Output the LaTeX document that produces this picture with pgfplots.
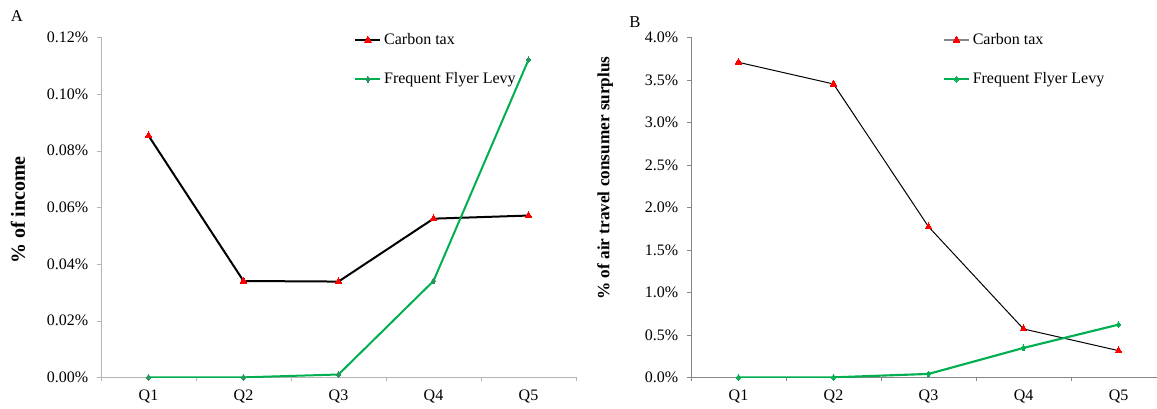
\documentclass[border=0pt]{standalone}
\usepackage{fontspec}
\setmainfont{Liberation Serif}
\usepackage{pgfplots}
\pgfplotsset{compat=1.18}
\definecolor{ffl}{RGB}{0,176,80}
\definecolor{fflmark}{RGB}{40,150,90}
\definecolor{axA}{RGB}{180,180,180}
\definecolor{axB}{RGB}{134,134,134}
\pgfplotsset{
 mybase/.style={
  scale only axis,
  font=\fontsize{12}{14}\selectfont,
  xmin=-0.5, ymin=0,
  axis x line*=bottom, axis y line*=left,
  axis line style={-},
  xtick={0,...,4}, xticklabels={Q1,Q2,Q3,Q4,Q5},
  major x tick style={draw=none},
  minor xtick={-0.5,0.5,1.5,2.5,3.5,4.5},
  tick align=outside,
  major tick length=3pt, minor tick length=3pt,
  /pgf/number format/assume math mode=true,
  yticklabel style={anchor=east, xshift=-3pt},
  xticklabel style={anchor=north, yshift=-3pt},
  legend cell align=left,
  legend style={draw=none, fill=none, inner sep=0pt, row sep=15.5pt,
    font=\fontsize{12}{14}\selectfont, anchor=north west},
  ylabel style={anchor=center, font=\bfseries},
 }
}
\begin{document}
\begin{tikzpicture}
\useasboundingbox (0,0) rectangle (867.75pt,306pt);
% Panel A
\begin{axis}[mybase,
  at={(75.75pt,23pt)}, anchor=south west,
  width=356.25pt, height=255pt,
  xmax=4.5, ymax=0.12,
  ytick={0,0.02,...,0.12},
  yticklabel={\pgfmathprintnumber[fixed,fixed zerofill,precision=2]{\tick}\%},
  axis line style={draw=axA}, tick style={draw=axA},
  ylabel={\% of income},
  ylabel style={at={(axis description cs:-0.1747,0.492)}, font=\bfseries\fontsize{15}{17}\selectfont},
  legend style={at={(axis description cs:0.533,1.02)}},
  legend image code/.code={\draw[mark repeat=2,mark phase=2] plot coordinates {(0cm,0cm) (0.33cm,0cm) (0.66cm,0cm)};},
]
\addplot[black, line width=1.5pt, mark=triangle*, mark size=3pt, mark options={fill=red, draw=red, line width=0pt}]
  coordinates {(0,0.0853) (1,0.0340) (2,0.0338) (3,0.0560) (4,0.0571)};
\addlegendentry{Carbon tax}
\addplot[ffl, line width=1.5pt, mark=diamond*, mark size=2.2pt, mark options={fill=fflmark, draw=fflmark, line width=0pt}]
  coordinates {(0,0) (1,0) (2,0.0010) (3,0.0340) (4,0.1121)};
\addlegendentry{Frequent Flyer Levy}
\end{axis}
% Panel B
\begin{axis}[mybase,
  at={(518.25pt,23pt)}, anchor=south west,
  width=349.5pt, height=255pt,
  xmax=4.405, ymax=4,
  ytick={0,0.5,...,4},
  yticklabel={\pgfmathprintnumber[fixed,fixed zerofill,precision=1]{\tick}\%},
  axis line style={draw=axB}, tick style={draw=axB},
  ylabel={\% of air travel consumer surplus},
  ylabel style={at={(axis description cs:-0.1845,0.586)}, font=\bfseries\fontsize{12.9}{15}\selectfont},
  legend style={at={(axis description cs:0.54,1.02)}},
]
\addplot[black, line width=0.75pt, mark=triangle*, mark size=3pt, mark options={fill=red, draw=red, line width=0pt},
  legend image code/.code={\draw[axB, line width=1.5pt] (0cm,0cm) -- (0.66cm,0cm); \fill[red] plot[mark=triangle*, mark size=3pt] coordinates {(0.33cm,0cm)};}]
  coordinates {(0,3.706) (1,3.451) (2,1.772) (3,0.569) (4,0.314)};
\addlegendentry{Carbon tax}
\addplot[ffl, line width=1.6pt, mark=diamond*, mark size=2.2pt, mark options={fill=ffl, draw=ffl, line width=0pt},
  legend image code/.code={\draw[mark repeat=2,mark phase=2] plot coordinates {(0cm,0cm) (0.33cm,0cm) (0.66cm,0cm)};}]
  coordinates {(0,0) (1,0) (2,0.040) (3,0.346) (4,0.620)};
\addlegendentry{Frequent Flyer Levy}
\end{axis}
\node[font=\fontsize{12.5}{14}\selectfont] at (12.75pt,294pt) {A};
\node[font=\fontsize{12.5}{14}\selectfont] at (476.25pt,289.5pt) {B};
\end{tikzpicture}
\end{document}
